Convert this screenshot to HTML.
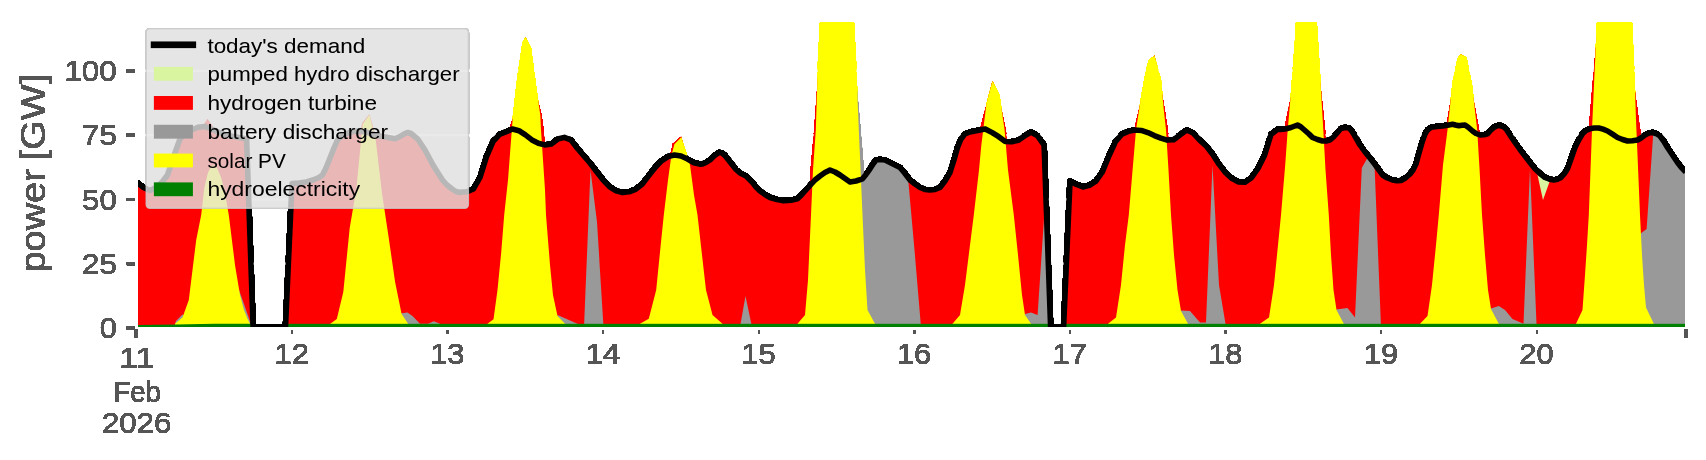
<!DOCTYPE html>
<html><head><meta charset="utf-8"><title>power</title>
<style>
html,body{margin:0;padding:0;background:#fff;}
body{width:1706px;height:460px;overflow:hidden;}
svg{display:block;}
text{font-family:"Liberation Sans",sans-serif;}
.tk{fill:#555555;font-size:28.6px;}
.lg{fill:#000;font-size:20.2px;}
</style></head><body>
<svg width="1706" height="460" viewBox="0 0 1706 460">
<rect width="1706" height="460" fill="#ffffff"/>
<defs><clipPath id="ax"><rect x="138" y="22" width="1547" height="305"/></clipPath>
<filter id="hard" filterUnits="userSpaceOnUse" x="0" y="0" width="1706" height="460" color-interpolation-filters="sRGB">
<feComponentTransfer><feFuncA type="linear" slope="20" intercept="-0.3"/></feComponentTransfer></filter></defs>
<g filter="url(#hard)">
<g clip-path="url(#ax)">
<rect x="138" y="69.75" width="1548" height="2.2" fill="#ffffff"/>
<rect x="138" y="134.0" width="1548" height="2.2" fill="#ffffff"/>
<rect x="138" y="198.3" width="1548" height="2.2" fill="#ffffff"/>
<rect x="138" y="262.6" width="1548" height="2.2" fill="#ffffff"/>
</g>
<g clip-path="url(#ax)">
<polygon fill="#ff0000" points="137.0,327.0 137.0,182.5 143.5,187.5 150.0,190.5 157.0,187.0 163.0,181.0 167.5,175.0 172.0,162.0 176.0,150.0 180.0,139.0 185.0,133.5 191.0,130.3 198.0,127.3 205.0,126.5 212.0,129.3 218.0,132.0 225.0,134.6 232.0,136.3 238.0,137.3 243.0,138.2 246.6,139.6 253.1,327.0"/>
<polygon fill="#ff0000" points="285.5,327.0 292.0,183.5 299.0,183.0 306.5,182.0 313.0,180.0 319.0,177.5 322.5,175.0 326.0,168.0 330.0,158.0 334.0,148.0 337.5,140.0 342.0,136.0 348.0,133.0 355.0,131.0 362.0,131.5 368.0,132.5 374.0,134.5 380.0,136.0 388.0,137.5 395.0,138.8 400.0,136.5 404.0,134.0 407.5,132.5 411.0,133.5 414.0,136.0 417.5,138.8 421.0,144.0 425.0,150.0 429.0,157.5 433.0,165.0 438.0,173.0 442.5,180.0 447.0,185.0 452.0,189.0 456.0,191.5 460.0,192.5 460.6,192.3 467.0,191.8 473.5,189.0 480.0,177.5 486.5,156.6 493.0,141.6 499.5,134.4 505.9,132.0 512.4,129.0 518.9,130.7 525.4,134.9 531.9,139.9 538.4,143.2 544.8,144.9 551.3,144.1 557.8,139.0 564.3,137.4 570.8,139.9 577.3,148.3 583.7,155.8 590.2,163.3 596.7,171.7 603.2,180.0 609.7,186.8 616.2,190.9 622.6,192.6 629.1,191.8 635.6,189.3 642.1,184.2 648.6,175.9 655.1,167.5 661.5,160.8 668.0,156.6 674.5,155.0 681.0,156.1 687.5,159.1 694.0,162.8 700.4,164.2 702.5,164.0 706.0,162.5 710.0,160.0 714.0,156.0 718.8,152.5 722.0,153.0 725.0,155.5 728.5,160.0 732.5,165.0 736.0,169.5 740.0,173.0 743.0,174.5 746.0,176.0 749.0,179.0 752.5,182.5 756.0,187.0 760.0,191.0 765.0,194.5 770.0,197.5 777.0,199.5 783.8,200.8 791.0,200.2 797.5,198.8 801.0,195.5 805.0,191.0 810.0,185.5 815.0,180.0 820.0,176.0 825.0,172.5 830.0,170.0 835.0,172.0 840.0,175.0 845.0,178.5 850.0,182.0 856.0,181.0 862.5,178.8 866.0,174.5 870.0,168.8 873.0,164.0 876.0,160.0 880.0,159.5 885.0,160.0 892.0,163.5 900.0,167.5 905.0,173.5 910.0,180.0 915.0,184.0 920.0,187.5 925.0,189.5 930.0,190.0 935.0,189.5 940.0,187.5 945.0,181.0 950.0,172.5 954.0,160.0 957.5,147.5 961.0,139.0 965.0,133.8 970.0,132.0 975.0,131.0 980.0,130.0 985.0,129.0 985.7,129.2 992.2,132.6 998.7,136.7 1005.2,141.4 1011.6,141.8 1018.1,140.4 1024.6,135.9 1031.1,132.0 1037.6,135.9 1044.1,145.1 1044.1,146.0 1050.6,327.0"/>
<polygon fill="#ff0000" points="1063.6,327.0 1070.0,181.3 1076.5,184.4 1083.0,187.0 1089.4,185.3 1095.9,181.1 1102.4,171.9 1108.9,156.0 1115.4,141.8 1121.9,134.2 1128.3,131.4 1134.8,130.0 1141.3,130.4 1147.8,132.6 1154.3,135.6 1160.8,138.1 1167.2,140.1 1173.7,139.7 1180.2,134.7 1186.7,130.0 1193.2,133.0 1199.7,140.1 1206.1,145.9 1212.6,154.3 1219.1,164.4 1225.6,172.7 1232.1,178.6 1238.6,181.9 1245.0,182.3 1251.5,177.7 1258.0,168.5 1264.5,155.5 1271.0,134.5 1277.5,129.3 1280.0,129.5 1285.0,129.0 1291.0,127.5 1297.5,125.0 1301.0,127.0 1305.0,130.5 1309.0,134.0 1312.5,137.5 1317.5,139.5 1322.5,141.0 1326.0,141.0 1330.0,140.0 1334.0,136.5 1337.5,132.5 1341.0,128.5 1345.0,127.5 1349.0,128.0 1352.5,132.0 1356.0,138.0 1360.0,145.0 1365.0,152.0 1370.0,158.0 1375.0,164.5 1379.0,170.0 1382.5,175.0 1387.5,178.0 1392.5,180.0 1397.0,180.8 1401.0,180.5 1405.5,178.0 1410.0,174.0 1413.0,170.0 1416.0,164.0 1419.0,153.0 1422.5,141.0 1425.0,134.0 1427.5,130.0 1430.0,128.0 1432.5,127.0 1437.5,126.5 1442.5,126.0 1447.5,125.2 1452.5,124.2 1455.5,125.0 1458.8,125.8 1462.0,125.2 1465.0,125.0 1468.5,127.5 1472.5,131.0 1476.0,133.5 1480.0,135.0 1484.0,134.8 1487.5,133.8 1490.5,130.5 1493.8,127.5 1497.0,125.8 1500.0,125.5 1503.0,126.5 1506.0,128.8 1510.0,135.0 1515.0,142.5 1520.0,149.5 1525.0,156.0 1530.0,162.5 1535.0,168.8 1540.0,173.5 1545.0,177.5 1549.5,179.2 1553.8,180.0 1557.5,179.2 1561.0,177.5 1564.5,173.5 1567.5,168.8 1571.0,159.0 1575.0,147.5 1579.0,139.5 1582.5,133.8 1586.0,130.5 1590.0,128.8 1594.0,128.0 1598.8,128.0 1603.0,129.2 1607.5,131.0 1612.5,134.2 1617.5,137.5 1622.5,139.5 1627.5,141.0 1632.5,140.8 1637.5,140.0 1641.0,138.0 1645.0,135.0 1649.0,133.0 1652.5,132.5 1656.0,133.5 1660.0,136.0 1664.0,141.5 1667.5,147.5 1672.5,155.0 1677.5,162.5 1681.0,167.0 1685.8,172.0 1685.8,327.0"/>
<polygon fill="#ff0000" points="176.2,323.8 183.7,317.5 189.9,300.0 193.7,270.0 197.4,240.0 202.4,215.0 205.5,188.0 209.2,172.5 212.2,166.7 213.7,165.2 215.8,168.0 219.3,176.0 222.8,188.0 227.6,215.0 233.8,265.0 238.8,295.0 242.8,310.0 246.3,318.8 248.8,323.8"/>
<polygon fill="#ff0000" points="331.5,323.8 338.0,319.0 344.5,292.0 350.9,228.0 357.4,190.0 363.9,124.0 369.4,115.0 374.5,140.0 380.9,194.0 387.4,237.0 393.9,282.0 400.4,314.0 406.9,323.8"/>
<polygon fill="#ff0000" points="483.0,323.8 489.0,319.3 493.0,290.0 496.8,252.5 499.8,215.0 503.5,180.0 508.8,130.0 514.2,115.0 518.5,77.5 523.7,42.5 525.5,37.0 529.8,47.5 535.4,90.0 541.5,115.0 543.6,130.0 548.9,190.0 549.9,215.0 553.9,265.0 556.9,295.0 561.4,316.0 568.9,323.8"/>
<polygon fill="#ff0000" points="641.2,323.8 650.0,318.8 657.5,290.0 661.2,252.0 665.0,215.0 669.2,180.0 672.5,156.0 675.6,144.3 681.3,137.2 688.8,165.0 692.8,195.0 696.3,215.0 700.8,255.0 704.8,290.0 711.3,315.0 721.3,323.8"/>
<polygon fill="#ff0000" points="795.1,323.8 802.6,315.0 805.6,280.0 808.6,215.0 810.6,170.0 814.2,130.0 819.2,60.0 821.2,22.0 852.8,22.0 854.8,60.0 857.6,130.0 859.8,180.0 861.3,215.0 863.8,270.0 866.3,310.0 873.8,323.8"/>
<polygon fill="#ff0000" points="947.4,323.8 954.9,315.0 959.9,285.0 964.9,245.0 968.6,215.0 973.9,170.0 976.4,144.5 979.8,130.0 986.7,104.0 992.5,81.0 998.3,95.0 1005.8,130.0 1009.8,170.0 1015.5,215.0 1019.8,255.0 1023.8,295.0 1026.8,315.0 1032.8,323.8"/>
<polygon fill="#ff0000" points="1105.3,323.8 1113.3,317.5 1118.3,285.0 1122.3,245.0 1126.0,215.0 1130.3,165.0 1134.2,130.0 1141.8,97.5 1147.2,70.0 1150.0,60.0 1154.5,55.8 1159.8,80.0 1164.7,110.0 1167.8,130.0 1171.2,170.0 1173.7,215.0 1176.7,255.0 1180.2,290.0 1183.7,311.0 1190.7,323.8"/>
<polygon fill="#ff0000" points="1254.6,323.8 1263.6,317.5 1268.6,285.0 1272.6,245.0 1275.6,215.0 1279.8,165.0 1284.1,130.0 1292.4,90.0 1296.2,40.0 1297.2,22.0 1315.5,22.0 1318.3,65.0 1325.1,130.0 1328.2,170.0 1331.5,215.0 1333.7,255.0 1336.2,290.0 1339.2,310.0 1346.5,323.8"/>
<polygon fill="#ff0000" points="1417.3,323.8 1424.8,316.0 1429.3,285.0 1433.3,245.0 1436.0,215.0 1440.3,165.0 1445.7,130.0 1453.7,82.5 1458.7,58.8 1460.5,54.0 1465.3,57.5 1470.8,85.0 1479.1,130.0 1482.4,170.0 1484.8,215.0 1487.8,255.0 1490.8,290.0 1493.8,309.0 1501.6,323.8"/>
<polygon fill="#ff0000" points="1571.2,323.8 1577.7,310.0 1580.2,275.0 1582.2,245.0 1584.0,215.0 1585.7,170.0 1588.8,130.0 1593.0,80.0 1598.2,22.0 1630.8,22.0 1633.5,80.0 1638.7,120.0 1642.9,148.0 1645.7,215.0 1647.7,255.0 1649.7,285.0 1651.7,307.5 1659.5,323.8"/>
<polygon fill="#ff0000" points="207.5,118.8 202.0,127.3 202.0,140.0 215.0,140.0 214.6,128.8"/>
<polygon fill="#ff0000" points="358.3,141.0 362.3,122.8 369.4,114.2 377.0,141.0"/>
<polygon fill="#ff0000" points="681.3,136.6 673.2,143.4 669.4,158.0 673.0,158.0"/>
<polygon fill="#d9f5a0" points="1537.5,175.0 1550.0,180.5 1543.0,200.0"/>
<polygon fill="#999999" points="174.0,327.0 176.0,321.0 182.5,314.5 185.0,316.0 185.0,327.0"/>
<polygon fill="#999999" points="238.0,327.0 239.0,290.0 243.6,303.0 250.6,323.0 252.0,327.0"/>
<polygon fill="#999999" points="396.0,327.0 400.0,313.5 407.5,312.5 412.5,316.0 420.0,323.8 428.0,323.8 433.8,321.3 440.0,323.8 440.0,327.0"/>
<polygon fill="#999999" points="555.0,327.0 557.5,315.0 577.5,323.8 578.0,327.0"/>
<polygon fill="#999999" points="584.0,327.0 590.5,170.0 597.0,222.0 603.5,327.0"/>
<polygon fill="#999999" points="740.0,327.0 745.5,296.0 752.0,327.0"/>
<polygon fill="#999999" points="850.0,327.0 850.0,182.0 856.0,181.0 862.5,178.8 866.0,174.5 870.0,168.8 873.0,164.0 876.0,160.0 880.0,159.5 885.0,160.0 892.0,163.5 900.0,167.5 905.0,173.5 908.0,177.4 914.5,250.0 921.0,327.0"/>
<polygon fill="#999999" points="855.0,90.0 857.0,90.0 860.6,130.0 864.5,178.0 856.0,181.0"/>
<polygon fill="#999999" points="1020.0,327.0 1025.0,314.0 1031.0,312.5 1037.6,315.0 1044.1,217.0 1051.0,327.0"/>
<polygon fill="#999999" points="1176.0,327.0 1181.0,310.5 1190.0,311.0 1200.0,322.5 1206.0,322.5 1212.5,165.0 1219.0,285.0 1225.5,323.8 1225.5,327.0"/>
<polygon fill="#999999" points="1333.0,327.0 1336.0,309.5 1347.5,308.0 1355.0,317.5 1361.8,168.0 1368.0,157.0 1374.5,164.0 1381.0,327.0"/>
<polygon fill="#999999" points="1488.0,327.0 1491.0,308.5 1498.8,306.0 1505.0,310.0 1512.5,319.0 1523.5,323.8 1530.0,168.8 1536.5,323.8 1536.5,327.0"/>
<polygon fill="#999999" points="1636.0,327.0 1636.0,236.0 1640.0,234.0 1646.6,229.0 1653.3,132.7 1656.0,133.5 1660.0,136.0 1664.0,141.5 1667.5,147.5 1672.5,155.0 1677.5,162.5 1681.0,167.0 1685.8,172.0 1685.8,327.0"/>
<polygon fill="#ffff00" points="175.0,327.0 175.0,323.8 182.5,317.5 188.8,300.0 192.5,270.0 196.2,240.0 201.2,215.0 204.3,188.0 208.0,172.5 211.0,166.7 213.7,165.2 217.0,168.0 220.5,176.0 224.0,188.0 228.8,215.0 235.0,265.0 240.0,295.0 244.0,310.0 247.5,318.8 250.0,323.8 250.0,327.0"/>
<polygon fill="#ffff00" points="330.3,327.0 330.3,323.8 336.8,319.0 343.3,292.0 349.7,228.0 356.2,190.0 362.7,124.0 369.4,115.0 375.7,140.0 382.1,194.0 388.6,237.0 395.1,282.0 401.6,314.0 408.1,323.8 408.1,327.0"/>
<polygon fill="#ffff00" points="487.5,327.0 487.5,323.8 493.5,319.3 497.5,290.0 501.2,252.5 504.2,215.0 508.0,180.0 511.8,130.0 513.0,115.0 517.3,77.5 522.5,42.5 525.5,37.0 531.0,47.5 536.6,90.0 540.3,115.0 541.0,130.0 545.0,190.0 546.0,215.0 550.0,265.0 553.0,295.0 557.5,316.0 565.0,323.8 565.0,327.0"/>
<polygon fill="#ffff00" points="640.0,327.0 640.0,323.8 648.8,318.8 656.2,290.0 660.0,252.0 663.8,215.0 668.0,180.0 671.3,156.0 674.4,144.3 681.3,137.2 690.0,165.0 694.0,195.0 697.5,215.0 702.0,255.0 706.0,290.0 712.5,315.0 722.5,323.8 722.5,327.0"/>
<polygon fill="#ffff00" points="797.5,327.0 797.5,323.8 805.0,315.0 808.0,280.0 811.0,215.0 813.0,170.0 815.8,130.0 818.0,60.0 820.0,22.0 854.0,22.0 856.0,60.0 858.8,130.0 861.0,180.0 862.5,215.0 865.0,270.0 867.5,310.0 875.0,323.8 875.0,327.0"/>
<polygon fill="#ffff00" points="952.5,327.0 952.5,323.8 960.0,315.0 965.0,285.0 970.0,245.0 973.8,215.0 979.0,170.0 981.4,144.5 983.2,130.0 986.4,104.0 992.5,81.0 999.5,95.0 1004.6,130.0 1008.0,170.0 1013.8,215.0 1018.0,255.0 1022.0,295.0 1025.0,315.0 1031.0,323.8 1031.0,327.0"/>
<polygon fill="#ffff00" points="1108.0,327.0 1108.0,323.8 1116.0,317.5 1121.0,285.0 1125.0,245.0 1128.8,215.0 1133.0,165.0 1136.0,130.0 1141.0,97.5 1146.0,70.0 1148.8,60.0 1154.5,55.8 1161.0,80.0 1163.8,110.0 1166.0,130.0 1168.5,170.0 1171.0,215.0 1174.0,255.0 1177.5,290.0 1181.0,311.0 1188.0,323.8 1188.0,327.0"/>
<polygon fill="#ffff00" points="1260.0,327.0 1260.0,323.8 1269.0,317.5 1274.0,285.0 1278.0,245.0 1281.0,215.0 1285.2,165.0 1287.7,130.0 1291.2,90.0 1295.0,40.0 1296.0,22.0 1316.8,22.0 1319.5,65.0 1323.3,130.0 1325.5,170.0 1328.8,215.0 1331.0,255.0 1333.5,290.0 1336.5,310.0 1343.8,323.8 1343.8,327.0"/>
<polygon fill="#ffff00" points="1420.0,327.0 1420.0,323.8 1427.5,316.0 1432.0,285.0 1436.0,245.0 1438.8,215.0 1443.0,165.0 1447.5,130.0 1452.5,82.5 1457.5,58.8 1460.5,54.0 1466.5,57.5 1472.0,85.0 1477.2,130.0 1479.6,170.0 1482.0,215.0 1485.0,255.0 1488.0,290.0 1491.0,309.0 1498.8,323.8 1498.8,327.0"/>
<polygon fill="#ffff00" points="1576.0,327.0 1576.0,323.8 1582.5,310.0 1585.0,275.0 1587.0,245.0 1588.8,215.0 1590.5,170.0 1592.0,130.0 1594.2,80.0 1597.0,22.0 1632.0,22.0 1634.7,80.0 1636.0,120.0 1637.2,148.0 1640.0,215.0 1642.0,255.0 1644.0,285.0 1646.0,307.5 1653.8,323.8 1653.8,327.0"/>
<polygon fill="#008000" points="137.0,328.0 137.0,325.1 175.0,324.6 215.0,323.8 253.1,323.8 253.1,328.0"/>
<rect x="285.5" y="323.8" width="765.0999999999999" height="3.7999999999999887" fill="#008000"/>
<rect x="1063.6" y="323.8" width="622.1500000000001" height="3.7999999999999887" fill="#008000"/>
</g>
<polyline clip-path="url(#ax)" fill="none" stroke="#000" stroke-width="5.56" stroke-linejoin="round" stroke-linecap="butt" points="137.0,182.5 143.5,187.5 150.0,190.5 157.0,187.0 163.0,181.0 167.5,175.0 172.0,162.0 176.0,150.0 180.0,139.0 185.0,133.5 191.0,130.3 198.0,127.3 205.0,126.5 212.0,129.3 218.0,132.0 225.0,134.6 232.0,136.3 238.0,137.3 243.0,138.2 246.6,139.6 253.1,327.0 285.5,327.0 292.0,183.5 299.0,183.0 306.5,182.0 313.0,180.0 319.0,177.5 322.5,175.0 326.0,168.0 330.0,158.0 334.0,148.0 337.5,140.0 342.0,136.0 348.0,133.0 355.0,131.0 362.0,131.5 368.0,132.5 374.0,134.5 380.0,136.0 388.0,137.5 395.0,138.8 400.0,136.5 404.0,134.0 407.5,132.5 411.0,133.5 414.0,136.0 417.5,138.8 421.0,144.0 425.0,150.0 429.0,157.5 433.0,165.0 438.0,173.0 442.5,180.0 447.0,185.0 452.0,189.0 456.0,191.5 460.0,192.5 460.6,192.3 467.0,191.8 473.5,189.0 480.0,177.5 486.5,156.6 493.0,141.6 499.5,134.4 505.9,132.0 512.4,129.0 518.9,130.7 525.4,134.9 531.9,139.9 538.4,143.2 544.8,144.9 551.3,144.1 557.8,139.0 564.3,137.4 570.8,139.9 577.3,148.3 583.7,155.8 590.2,163.3 596.7,171.7 603.2,180.0 609.7,186.8 616.2,190.9 622.6,192.6 629.1,191.8 635.6,189.3 642.1,184.2 648.6,175.9 655.1,167.5 661.5,160.8 668.0,156.6 674.5,155.0 681.0,156.1 687.5,159.1 694.0,162.8 700.4,164.2 702.5,164.0 706.0,162.5 710.0,160.0 714.0,156.0 718.8,152.5 722.0,153.0 725.0,155.5 728.5,160.0 732.5,165.0 736.0,169.5 740.0,173.0 743.0,174.5 746.0,176.0 749.0,179.0 752.5,182.5 756.0,187.0 760.0,191.0 765.0,194.5 770.0,197.5 777.0,199.5 783.8,200.8 791.0,200.2 797.5,198.8 801.0,195.5 805.0,191.0 810.0,185.5 815.0,180.0 820.0,176.0 825.0,172.5 830.0,170.0 835.0,172.0 840.0,175.0 845.0,178.5 850.0,182.0 856.0,181.0 862.5,178.8 866.0,174.5 870.0,168.8 873.0,164.0 876.0,160.0 880.0,159.5 885.0,160.0 892.0,163.5 900.0,167.5 905.0,173.5 910.0,180.0 915.0,184.0 920.0,187.5 925.0,189.5 930.0,190.0 935.0,189.5 940.0,187.5 945.0,181.0 950.0,172.5 954.0,160.0 957.5,147.5 961.0,139.0 965.0,133.8 970.0,132.0 975.0,131.0 980.0,130.0 985.0,129.0 985.7,129.2 992.2,132.6 998.7,136.7 1005.2,141.4 1011.6,141.8 1018.1,140.4 1024.6,135.9 1031.1,132.0 1037.6,135.9 1044.1,145.1 1044.1,146.0 1050.6,327.0 1063.6,327.0 1070.0,181.3 1076.5,184.4 1083.0,187.0 1089.4,185.3 1095.9,181.1 1102.4,171.9 1108.9,156.0 1115.4,141.8 1121.9,134.2 1128.3,131.4 1134.8,130.0 1141.3,130.4 1147.8,132.6 1154.3,135.6 1160.8,138.1 1167.2,140.1 1173.7,139.7 1180.2,134.7 1186.7,130.0 1193.2,133.0 1199.7,140.1 1206.1,145.9 1212.6,154.3 1219.1,164.4 1225.6,172.7 1232.1,178.6 1238.6,181.9 1245.0,182.3 1251.5,177.7 1258.0,168.5 1264.5,155.5 1271.0,134.5 1277.5,129.3 1280.0,129.5 1285.0,129.0 1291.0,127.5 1297.5,125.0 1301.0,127.0 1305.0,130.5 1309.0,134.0 1312.5,137.5 1317.5,139.5 1322.5,141.0 1326.0,141.0 1330.0,140.0 1334.0,136.5 1337.5,132.5 1341.0,128.5 1345.0,127.5 1349.0,128.0 1352.5,132.0 1356.0,138.0 1360.0,145.0 1365.0,152.0 1370.0,158.0 1375.0,164.5 1379.0,170.0 1382.5,175.0 1387.5,178.0 1392.5,180.0 1397.0,180.8 1401.0,180.5 1405.5,178.0 1410.0,174.0 1413.0,170.0 1416.0,164.0 1419.0,153.0 1422.5,141.0 1425.0,134.0 1427.5,130.0 1430.0,128.0 1432.5,127.0 1437.5,126.5 1442.5,126.0 1447.5,125.2 1452.5,124.2 1455.5,125.0 1458.8,125.8 1462.0,125.2 1465.0,125.0 1468.5,127.5 1472.5,131.0 1476.0,133.5 1480.0,135.0 1484.0,134.8 1487.5,133.8 1490.5,130.5 1493.8,127.5 1497.0,125.8 1500.0,125.5 1503.0,126.5 1506.0,128.8 1510.0,135.0 1515.0,142.5 1520.0,149.5 1525.0,156.0 1530.0,162.5 1535.0,168.8 1540.0,173.5 1545.0,177.5 1549.5,179.2 1553.8,180.0 1557.5,179.2 1561.0,177.5 1564.5,173.5 1567.5,168.8 1571.0,159.0 1575.0,147.5 1579.0,139.5 1582.5,133.8 1586.0,130.5 1590.0,128.8 1594.0,128.0 1598.8,128.0 1603.0,129.2 1607.5,131.0 1612.5,134.2 1617.5,137.5 1622.5,139.5 1627.5,141.0 1632.5,140.8 1637.5,140.0 1641.0,138.0 1645.0,135.0 1649.0,133.0 1652.5,132.5 1656.0,133.5 1660.0,136.0 1664.0,141.5 1667.5,147.5 1672.5,155.0 1677.5,162.5 1681.0,167.0 1685.8,172.0"/>
<rect x="126.7" y="326.61" width="8.2" height="2.78" fill="#555555"/>
<rect x="126.7" y="262.31" width="8.2" height="2.78" fill="#555555"/>
<rect x="126.7" y="198.01" width="8.2" height="2.78" fill="#555555"/>
<rect x="126.7" y="133.71" width="8.2" height="2.78" fill="#555555"/>
<rect x="126.7" y="69.46" width="8.2" height="2.78" fill="#555555"/>
<rect x="134.9" y="329.7" width="2.78" height="8.0" fill="#555555"/>
<rect x="1684.5" y="329.7" width="2.78" height="8.0" fill="#555555"/>
<rect x="291.3" y="330.3" width="1.4" height="3.3" fill="#555555"/>
<rect x="446.9" y="330.3" width="1.4" height="3.3" fill="#555555"/>
<rect x="602.5" y="330.3" width="1.4" height="3.3" fill="#555555"/>
<rect x="758.1" y="330.3" width="1.4" height="3.3" fill="#555555"/>
<rect x="913.7" y="330.3" width="1.4" height="3.3" fill="#555555"/>
<rect x="1069.3" y="330.3" width="1.4" height="3.3" fill="#555555"/>
<rect x="1224.9" y="330.3" width="1.4" height="3.3" fill="#555555"/>
<rect x="1380.5" y="330.3" width="1.4" height="3.3" fill="#555555"/>
<rect x="1536.1" y="330.3" width="1.4" height="3.3" fill="#555555"/>
<text x="116.8" y="338.2" class="tk" text-anchor="end" textLength="17.099999999999998" lengthAdjust="spacingAndGlyphs">0</text>
<text x="116.8" y="273.9" class="tk" text-anchor="end" textLength="34.699999999999996" lengthAdjust="spacingAndGlyphs">25</text>
<text x="116.8" y="209.6" class="tk" text-anchor="end" textLength="34.699999999999996" lengthAdjust="spacingAndGlyphs">50</text>
<text x="116.8" y="145.3" class="tk" text-anchor="end" textLength="34.699999999999996" lengthAdjust="spacingAndGlyphs">75</text>
<text x="116.8" y="81.0" class="tk" text-anchor="end" textLength="52.4" lengthAdjust="spacingAndGlyphs">100</text>
<text x="291.7" y="364.4" class="tk" text-anchor="middle" textLength="34.3" lengthAdjust="spacingAndGlyphs">12</text>
<text x="447.3" y="364.4" class="tk" text-anchor="middle" textLength="34.3" lengthAdjust="spacingAndGlyphs">13</text>
<text x="602.9" y="364.4" class="tk" text-anchor="middle" textLength="34.3" lengthAdjust="spacingAndGlyphs">14</text>
<text x="758.5" y="364.4" class="tk" text-anchor="middle" textLength="34.3" lengthAdjust="spacingAndGlyphs">15</text>
<text x="914.1" y="364.4" class="tk" text-anchor="middle" textLength="34.3" lengthAdjust="spacingAndGlyphs">16</text>
<text x="1069.7" y="364.4" class="tk" text-anchor="middle" textLength="34.3" lengthAdjust="spacingAndGlyphs">17</text>
<text x="1225.3" y="364.4" class="tk" text-anchor="middle" textLength="34.3" lengthAdjust="spacingAndGlyphs">18</text>
<text x="1380.9" y="364.4" class="tk" text-anchor="middle" textLength="34.3" lengthAdjust="spacingAndGlyphs">19</text>
<text x="1536.5" y="364.4" class="tk" text-anchor="middle" textLength="34.3" lengthAdjust="spacingAndGlyphs">20</text>
<text x="136.8" y="368.2" class="tk" text-anchor="middle" textLength="35.3" lengthAdjust="spacingAndGlyphs">11</text>
<text x="137.2" y="402.2" class="tk" text-anchor="middle" textLength="47.5" lengthAdjust="spacingAndGlyphs">Feb</text>
<text x="136.6" y="433.2" class="tk" text-anchor="middle" textLength="69.4" lengthAdjust="spacingAndGlyphs">2026</text>
<text transform="translate(44.5,272.6) rotate(-90)" text-anchor="start" fill="#555555" font-size="35px" textLength="103.5" lengthAdjust="spacingAndGlyphs">power</text>
<text transform="translate(44.5,160.3) rotate(-90)" text-anchor="start" fill="#555555" font-size="35px" textLength="86.5" lengthAdjust="spacingAndGlyphs">[GW]</text>
<rect x="146.2" y="28.8" width="322.2" height="179.39999999999998" rx="3.6" ry="3.6" fill="#e5e5e5" fill-opacity="0.8" stroke="#cccccc" stroke-opacity="0.8" stroke-width="1.39"/>
<rect x="150.8" y="41.5" width="45.3" height="6.6" fill="#000"/>
<rect x="153.9" y="66.9" width="39" height="13.8" fill="#d9f5a0"/>
<rect x="153.9" y="96.0" width="39" height="13.8" fill="#ff0000"/>
<rect x="153.9" y="124.8" width="39" height="13.8" fill="#999999"/>
<rect x="153.9" y="153.6" width="39" height="13.8" fill="#ffff00"/>
<rect x="153.9" y="182.4" width="39" height="13.8" fill="#008000"/>
<text x="207.4" y="52.7" class="lg" text-anchor="start" textLength="157.8" lengthAdjust="spacingAndGlyphs">today's demand</text>
<text x="207.4" y="81.4" class="lg" text-anchor="start" textLength="252.2" lengthAdjust="spacingAndGlyphs">pumped hydro discharger</text>
<text x="207.4" y="110.2" class="lg" text-anchor="start" textLength="169.6" lengthAdjust="spacingAndGlyphs">hydrogen turbine</text>
<text x="207.4" y="138.9" class="lg" text-anchor="start" textLength="180.6" lengthAdjust="spacingAndGlyphs">battery discharger</text>
<text x="207.4" y="167.5" class="lg" text-anchor="start" textLength="78.4" lengthAdjust="spacingAndGlyphs">solar PV</text>
<text x="207.4" y="196.1" class="lg" text-anchor="start" textLength="152.8" lengthAdjust="spacingAndGlyphs">hydroelectricity</text>
</g></svg></body></html>
